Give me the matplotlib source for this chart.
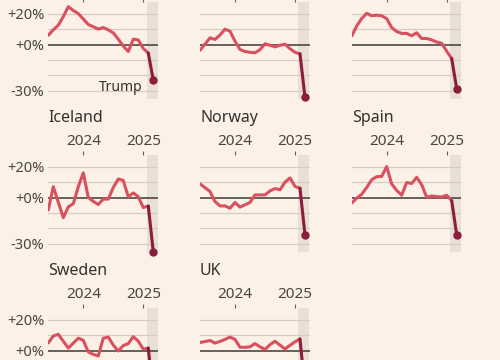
import matplotlib as mpl
mpl.use('Agg')
import matplotlib.pyplot as plt
import numpy as np

# monthly change, June 2023 .. March 2025 (%)
month_index = np.arange(22)
x_dates = 2023 + (5 + month_index) / 12
inauguration = 2025 + 20 / 365

names = ["", "", "", "Iceland", "Norway", "Spain", "Sweden", "UK"]

row1_left = [6, 9.5, 12.5, 18, 24.5, 22, 20, 16.5, 13, 11.5, 10, 11, 9.5, 7.5,
             3.5, -1, -4.5, 3.5, 3, -2.5, -5.5, -23]
row1_mid = [-3.7, 0.3, 4.3, 3.3, 6.1, 9.9, 8.6, 2.2, -3.2, -4.5, -5, -5.3, -3.3,
            0.5, -0.5, -1.5, -0.5, 0.2, -2.7, -5, -6, -34]
row1_right = [5.5, 12, 16.8, 20.2, 18.6, 19, 18.6, 16.7, 11, 8.4, 7.2, 7.2, 5.7,
              7.6, 3.9, 3.9, 3, 1.6, 0.8, -4.3, -9, -28.5]
iceland = [-8, 7, -3, -13, -6, -4, 7, 16, 0, -2.5, -4.5, -1, -1, 6.5, 12, 11,
           0.5, 3, 0.5, -6.5, -5.5, -35]
norway = [8.8, 6.4, 3.9, -2.6, -5.4, -5.4, -6.9, -3.2, -6.2, -4.7, -3.2, 1.7, 1.7,
          1.7, 4.3, 5.8, 5, 9.9, 12.7, 7.2, 6, -24]
spain = [-3.6, -0.4, 2.1, 6.5, 11.5, 13.5, 13.6, 20, 8.8, 4.6, 1.5, 9.7, 9.1,
         13.1, 8.3, 0.2, 1, 0.6, 0.4, 1.5, -2, -24]
sweden = [4.9, 9.4, 10.5, 6, 1.6, 4.8, 8, 6.6, -0.9, -2.5, -3.5, 8, 8.7, 3.5,
          -0.3, 3.2, 4.5, 9, 6, 0.9, 1.6, -30]
uk = [5.2, 5.8, 6.5, 4.8, 5.9, 7.2, 8.7, 7.2, 2.1, 2.1, 2.4, 4.5, 2.4, 0.7, 3.8,
      6, 3.5, 1, 3.4, 5.6, 7.5, -25]

series = [row1_left, row1_mid, row1_right, iceland, norway, spain, sweden, uk]

bg = "#fcf1e7"
line_col = "#d9505e"
dark_col = "#8b1c3b"
grid_col = "#d6ccc2"
zero_col = "#4d4845"
shade_col = "#e8dfd6"
text_col = "#33302e"
tick_col = "#66605c"

plt.rcParams['font.family'] = ['Noto Sans', 'DejaVu Sans']

W, H = 500, 360
fig = plt.figure(figsize=(5, 3.6), dpi=100, facecolor=bg)

col_left = [48.3, 200, 351.7]
row_top = [2, 155, 308]
ax_w, ax_h = 109.5, 97
x_lo, x_hi = 2023 + 5 / 12, 2025.242
y_lo, y_hi = -35.2, 27.5

for k, vals in enumerate(series):
    r, c = divmod(k, 3)
    left = col_left[c]
    top = row_top[r]
    ax = fig.add_axes([left / W, 1 - (top + ax_h) / H, ax_w / W, ax_h / H])
    ax.set_facecolor(bg)
    ax.set_xlim(x_lo, x_hi)
    ax.set_ylim(y_lo, y_hi)
    for s in ax.spines.values():
        s.set_visible(False)

    ax.axvspan(inauguration, x_hi, color=shade_col, lw=0, zorder=0)
    for g in [-30, -20, -10, 10, 20]:
        ax.axhline(g, color=grid_col, lw=0.9, zorder=1)
    ax.axhline(0, color=zero_col, lw=1.2, zorder=2)

    v = np.array(vals)
    ax.plot(x_dates[:-1], v[:-1], color=line_col, lw=2.2, zorder=3,
            solid_joinstyle='round', solid_capstyle='round')
    ax.plot(x_dates[-2:], v[-2:], color=dark_col, lw=2.2, zorder=4,
            solid_capstyle='round')
    ax.plot(x_dates[-1], v[-1], 'o', color=dark_col, ms=5, zorder=5,
            clip_on=False)

    ax.xaxis.tick_top()
    ax.set_xticks([2024, 2025])
    ax.set_xticklabels(["2024", "2025"])
    ax.tick_params(axis='x', length=3, width=0.8, color=tick_col, pad=1,
                   labelsize=11, labelcolor="#4a4542")
    if c == 0:
        ax.set_yticks([20, 0, -30])
        ax.set_yticklabels(["+20%", "+0%", "-30%"])
        ax.tick_params(axis='y', length=0, pad=3, labelsize=10.5,
                       labelcolor="#4a4542")
    else:
        ax.set_yticks([])

    if names[k]:
        fig.text(left / W, 1 - 121.7 / H - (r - 1) * 153 / H, names[k],
                 ha='left', va='baseline', fontsize=11.5, fontweight='semibold',
                 color=text_col)

    if k == 0:
        ax.text(2024.99, -28, "Trump", ha='right', va='center', fontsize=10,
                color=text_col)

fig.savefig("out.png", dpi=100, facecolor=bg)
